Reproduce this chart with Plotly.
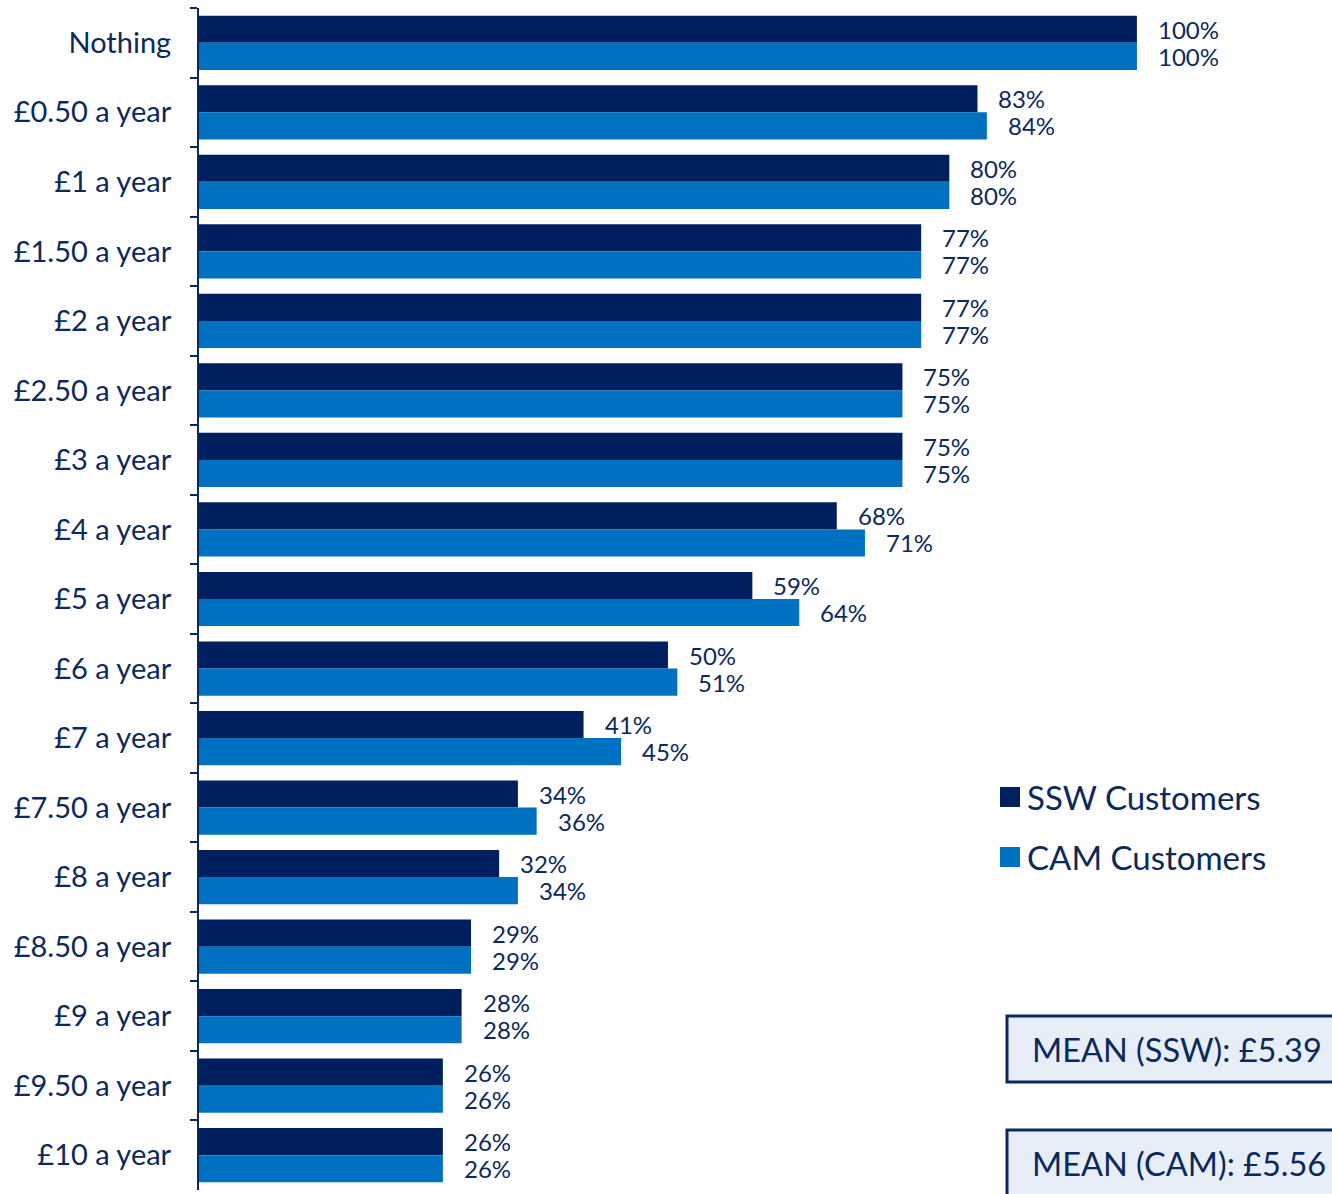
import plotly.graph_objects as go

# Willingness-to-pay survey: share of customers accepting each annual amount
categories = ["Nothing", "£0.50 a year", "£1 a year", "£1.50 a year", "£2 a year",
              "£2.50 a year", "£3 a year", "£4 a year", "£5 a year", "£6 a year",
              "£7 a year", "£7.50 a year", "£8 a year", "£8.50 a year", "£9 a year",
              "£9.50 a year", "£10 a year"]
ssw_values = [100, 83, 80, 77, 77, 75, 75, 68, 59, 50, 41, 34, 32, 29, 28, 26, 26]
cam_values = [100, 84, 80, 77, 77, 75, 75, 71, 64, 51, 45, 36, 34, 29, 28, 26, 26]
series_names = ["SSW Customers", "CAM Customers"]
mean_labels = ["MEAN (SSW): £5.39", "MEAN (CAM): £5.56"]

W, H = 1332, 1194
ML, MR, MT, MB = 199, 0, 8, 4
FONT = "Lato"
TEXT_COL = "#0b2a5b"
DARK = "#001f5f"
LIGHT = "#0070c0"
X_MAX = 120.8


def px_x(px):
    return (px - ML) / (W - ML - MR)


def px_y(py):
    return 1 - (py - MT) / (H - MT - MB)


fig = go.Figure()
fig.add_trace(go.Bar(y=categories, x=ssw_values, orientation="h", name=series_names[0],
                     marker=dict(color=DARK, line=dict(width=0)), showlegend=False))
fig.add_trace(go.Bar(y=categories, x=cam_values, orientation="h", name=series_names[1],
                     marker=dict(color=LIGHT, line=dict(width=0)), showlegend=False))

annotations = []
for cat, v in zip(categories, ssw_values):
    annotations.append(dict(x=v, y=cat, xref="x", yref="y", text=f"{v}%", showarrow=False,
                            xanchor="left", yanchor="middle", xshift=19, yshift=13.5,
                            font=dict(family=FONT, size=24, color=TEXT_COL)))
for cat, v in zip(categories, cam_values):
    annotations.append(dict(x=v, y=cat, xref="x", yref="y", text=f"{v}%", showarrow=False,
                            xanchor="left", yanchor="middle", xshift=19, yshift=-13.5,
                            font=dict(family=FONT, size=24, color=TEXT_COL)))

shapes = []
# legend
for name, col, cy in zip(series_names, [DARK, LIGHT], [797, 857]):
    shapes.append(dict(type="rect", xref="paper", yref="paper",
                       x0=px_x(1000), x1=px_x(1020), y0=px_y(cy + 10), y1=px_y(cy - 10),
                       fillcolor=col, line=dict(width=0)))
    annotations.append(dict(x=px_x(1025), y=px_y(cy), xref="paper", yref="paper", text=name,
                            showarrow=False, xanchor="left", yanchor="middle",
                            font=dict(family=FONT, size=33, color=TEXT_COL)))

# mean boxes
for label, (top, bottom) in zip(mean_labels, [(1016, 1082), (1130, 1210)]):
    shapes.append(dict(type="rect", xref="paper", yref="paper",
                       x0=px_x(1007), x1=px_x(1345), y0=px_y(bottom), y1=px_y(top),
                       fillcolor="#e7eef8", line=dict(color=TEXT_COL, width=3)))
for label, cy in zip(mean_labels, [1049, 1163]):
    annotations.append(dict(x=px_x(1030), y=px_y(cy), xref="paper", yref="paper", text=label,
                            showarrow=False, xanchor="left", yanchor="middle",
                            font=dict(family=FONT, size=32.5, color=TEXT_COL)))

fig.update_layout(
    width=W, height=H,
    margin=dict(l=ML, r=MR, t=MT, b=MB),
    paper_bgcolor="white", plot_bgcolor="white",
    barmode="group", bargap=0.22, bargroupgap=0,
    font=dict(family=FONT, color=TEXT_COL),
    annotations=annotations, shapes=shapes,
    showlegend=False,
)
fig.update_xaxes(range=[0, X_MAX], visible=False, showgrid=False, zeroline=False)
fig.update_yaxes(autorange="reversed", tickson="boundaries", ticks="outside", ticklen=7,
                 tickcolor=TEXT_COL, tickwidth=2, showline=True, linecolor=TEXT_COL,
                 linewidth=2, showgrid=False, ticklabelstandoff=20,
                 tickfont=dict(family=FONT, size=29, color=TEXT_COL))

fig.write_html("out.html")
